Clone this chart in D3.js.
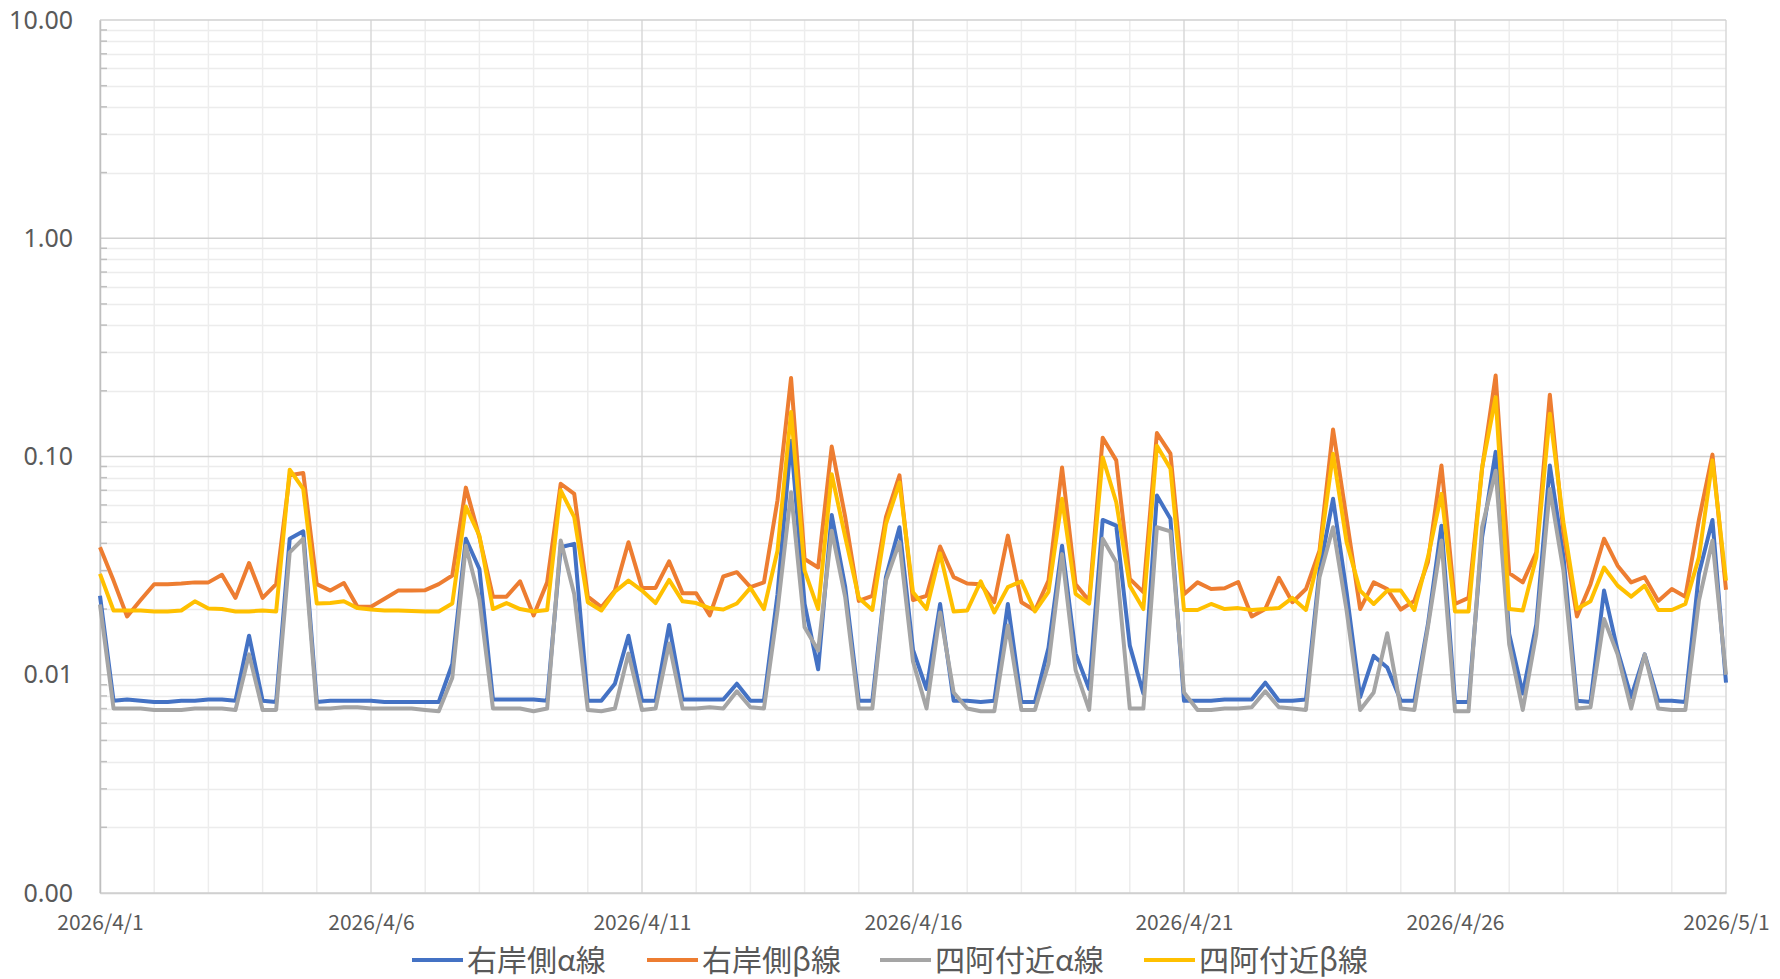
<!DOCTYPE html>
<html>
<head>
<meta charset="utf-8">
<title>chart</title>
<script src="https://cdn.jsdelivr.net/npm/d3@7"></script>
<style>
  html, body { margin: 0; padding: 0; background: #fff; }
  svg { display: block; }
</style>
</head>
<body>
<div id="chart"></div>
<script>
// series names (legend order = draw order)
const series_names = ["右岸側α線", "右岸側β線", "四阿付近α線", "四阿付近β線"];
const series_colors = ["#4472C4", "#ED7D31", "#A5A5A5", "#FFC000"];

// one reading every 6 hours, 2026/4/1 00:00 .. 2026/5/1 00:00
const start_date = new Date(2026, 3, 1);
const end_date = new Date(2026, 4, 1);

const right_alpha = [
  0.023, 0.0076, 0.0077, 0.0076, 0.0075, 0.0075, 0.0076, 0.0076, 0.0077, 0.0077, 0.0076, 0.0151, 0.0076,
  0.0075, 0.042, 0.0454, 0.0075, 0.0076, 0.0076, 0.0076, 0.0076, 0.0075, 0.0075, 0.0075, 0.0075,
  0.0075, 0.0112, 0.042, 0.0305, 0.0077, 0.0077, 0.0077, 0.0077, 0.0076, 0.0384, 0.0398, 0.0076,
  0.0076, 0.0091, 0.0151, 0.0076, 0.0076, 0.0169, 0.0077, 0.0077, 0.0077, 0.0077, 0.0091, 0.0076,
  0.0076, 0.0234, 0.118, 0.0211, 0.0106, 0.054, 0.0252, 0.0076, 0.0076, 0.028, 0.0474, 0.013,
  0.0086, 0.0211, 0.0076, 0.0076, 0.0075, 0.0076, 0.0211, 0.0075, 0.0075, 0.0133, 0.039, 0.0125,
  0.0086, 0.0512, 0.0482, 0.0136, 0.0082, 0.0662, 0.0518, 0.0076, 0.0076, 0.0076, 0.0077, 0.0077,
  0.0077, 0.0092, 0.0076, 0.0076, 0.0077, 0.030, 0.064, 0.0239, 0.0079, 0.0122, 0.0108, 0.0076,
  0.0076, 0.017, 0.0482, 0.0075, 0.0075, 0.0427, 0.105, 0.0154, 0.0082, 0.017, 0.091, 0.035,
  0.0076, 0.0075, 0.0243, 0.0129, 0.0079, 0.0124, 0.0076, 0.0076, 0.0075, 0.029, 0.0512, 0.0092
];

const right_beta = [
  0.0384, 0.027, 0.0185, 0.022, 0.026, 0.026, 0.0262, 0.0265, 0.0265, 0.0287, 0.0225, 0.0325, 0.0225,
  0.026, 0.082, 0.084, 0.026, 0.0243, 0.0263, 0.0205, 0.0205, 0.0223, 0.0243, 0.0243, 0.0244,
  0.026, 0.0285, 0.072, 0.0427, 0.0228, 0.0228, 0.0268, 0.0187, 0.0265, 0.075, 0.0674, 0.0228,
  0.0204, 0.0243, 0.0405, 0.025, 0.025, 0.0331, 0.0236, 0.0236, 0.0187, 0.0282, 0.0295, 0.0252,
  0.0265, 0.063, 0.229, 0.0339, 0.031, 0.111, 0.0527, 0.0218, 0.023, 0.0527, 0.082, 0.022,
  0.023, 0.0387, 0.028, 0.0262, 0.026, 0.0215, 0.0434, 0.0215, 0.0197, 0.027, 0.089, 0.026,
  0.0218, 0.122, 0.096, 0.0275, 0.0239, 0.128, 0.103, 0.0234, 0.0265, 0.0247, 0.0249, 0.0266,
  0.0185, 0.020, 0.0278, 0.0215, 0.0247, 0.037, 0.133, 0.0518, 0.020, 0.0265, 0.0247, 0.0199,
  0.0218, 0.0328, 0.091, 0.0211, 0.0225, 0.088, 0.235, 0.0292, 0.0265, 0.0364, 0.192, 0.045,
  0.0185, 0.026, 0.042, 0.0316, 0.0265, 0.028, 0.0218, 0.0247, 0.0228, 0.0512, 0.102, 0.0245
];

const azumaya_alpha = [
  0.021, 0.0070, 0.0070, 0.0070, 0.0069, 0.0069, 0.0069, 0.0070, 0.0070, 0.0070, 0.0069, 0.0124, 0.0069,
  0.0069, 0.0364, 0.042, 0.0070, 0.0070, 0.0071, 0.0071, 0.0070, 0.0070, 0.0070, 0.0070, 0.0069,
  0.0068, 0.0097, 0.039, 0.0222, 0.0070, 0.0070, 0.0070, 0.0068, 0.0070, 0.0412, 0.0234, 0.0069,
  0.0068, 0.0070, 0.0125, 0.0069, 0.0070, 0.0139, 0.0070, 0.0070, 0.0071, 0.0070, 0.0084, 0.0071,
  0.0070, 0.0197, 0.0686, 0.0165, 0.0129, 0.0457, 0.0226, 0.0070, 0.0070, 0.027, 0.0405, 0.0115,
  0.0070, 0.0193, 0.0083, 0.0070, 0.0068, 0.0068, 0.0168, 0.0069, 0.0069, 0.0112, 0.0357, 0.0105,
  0.0069, 0.042, 0.0328, 0.0070, 0.0070, 0.0474, 0.0454, 0.0083, 0.0069, 0.0069, 0.0070, 0.0070,
  0.0071, 0.0084, 0.0071, 0.0070, 0.0069, 0.028, 0.0474, 0.0197, 0.0069, 0.0083, 0.0155, 0.0070,
  0.0069, 0.0165, 0.0412, 0.0068, 0.0068, 0.0474, 0.086, 0.0138, 0.0069, 0.0154, 0.071, 0.030,
  0.0070, 0.0071, 0.018, 0.0124, 0.0070, 0.0124, 0.0070, 0.0069, 0.0069, 0.0218, 0.0412, 0.0100
];

const azumaya_beta = [
  0.029, 0.0197, 0.0197, 0.0197, 0.0195, 0.0195, 0.0197, 0.0217, 0.0201, 0.020, 0.0195, 0.0195, 0.0197,
  0.0195, 0.087, 0.071, 0.0212, 0.0213, 0.0217, 0.0202, 0.0199, 0.0197, 0.0197, 0.0196, 0.0195,
  0.0195, 0.0212, 0.059, 0.0434, 0.020, 0.0213, 0.020, 0.0195, 0.0198, 0.070, 0.0527, 0.0215,
  0.0197, 0.024, 0.027, 0.0243, 0.0213, 0.0272, 0.0217, 0.0213, 0.0202, 0.0199, 0.0212, 0.025,
  0.020, 0.037, 0.160, 0.030, 0.020, 0.083, 0.0427, 0.0225, 0.0198, 0.049, 0.076, 0.0239,
  0.020, 0.036, 0.0195, 0.0197, 0.0268, 0.0193, 0.0252, 0.0268, 0.0195, 0.024, 0.064, 0.0235,
  0.0212, 0.099, 0.0617, 0.0256, 0.020, 0.112, 0.088, 0.0198, 0.0198, 0.0211, 0.020, 0.0202,
  0.0198, 0.020, 0.0202, 0.0225, 0.0198, 0.0357, 0.103, 0.0405, 0.0243, 0.0211, 0.0243, 0.0243,
  0.0198, 0.0345, 0.0674, 0.0195, 0.0195, 0.089, 0.187, 0.020, 0.0197, 0.0345, 0.157, 0.05,
  0.020, 0.0217, 0.031, 0.0256, 0.0228, 0.0256, 0.0198, 0.0198, 0.0211, 0.0345, 0.096, 0.027
];

const y_ticks = [0.001, 0.01, 0.1, 1, 10];

const all_series = [right_alpha, right_beta, azumaya_alpha, azumaya_beta];

const width = 1780, height = 979;
const margin = {top: 20, right: 54, bottom: 86, left: 100};

const svg = d3.select("#chart").append("svg")
  .attr("width", width)
  .attr("height", height)
  .attr("viewBox", [0, 0, width, height]);

const times = d3.timeHour.every(6).range(start_date, d3.timeHour.offset(end_date, 1));

const x = d3.scaleTime()
  .domain([start_date, end_date])
  .range([margin.left, width - margin.right]);

const y = d3.scaleLog()
  .domain([0.001, 10])
  .range([height - margin.bottom, margin.top]);

// minor horizontal gridlines (2..9 of each decade)
const minor_y = [];
for (let d = 0.001; d < 10; d *= 10) {
  for (let k = 2; k <= 9; k++) minor_y.push(d * k);
}

const grid = svg.append("g");

grid.selectAll("line.minor-y")
  .data(minor_y)
  .join("line")
    .attr("x1", margin.left)
    .attr("x2", width - margin.right)
    .attr("y1", d => Math.round(y(d)) + 0.5)
    .attr("y2", d => Math.round(y(d)) + 0.5)
    .attr("stroke", "#ececec")
    .attr("stroke-width", 1.5);

// daily vertical gridlines
const days = d3.timeDay.range(start_date, d3.timeDay.offset(end_date, 1));
grid.selectAll("line.day")
  .data(days)
  .join("line")
    .attr("x1", d => x(d))
    .attr("x2", d => x(d))
    .attr("y1", margin.top)
    .attr("y2", height - margin.bottom)
    .attr("stroke", (d, i) => i % 5 === 0 ? "#d9d9d9" : "#ededed")
    .attr("stroke-width", 1.5);

// decade gridlines
grid.selectAll("line.major-y")
  .data(y_ticks)
  .join("line")
    .attr("x1", margin.left)
    .attr("x2", width - margin.right)
    .attr("y1", d => y(d))
    .attr("y2", d => y(d))
    .attr("stroke", "#d0d0d0")
    .attr("stroke-width", 1.5);

// y axis
const yAxis = d3.axisLeft(y)
  .tickValues(y_ticks)
  .tickFormat(d3.format(".2f"))
  .tickSize(0)
  .tickPadding(27);

svg.append("g")
  .attr("transform", `translate(${margin.left},0)`)
  .call(yAxis)
  .call(g => g.select(".domain").attr("stroke", "#bfbfbf").attr("stroke-width", 1.5))
  .call(g => g.selectAll("text")
    .attr("fill", "#595959")
    .style("font", "25px 'Noto Sans', sans-serif"));

// minor tick marks on the y axis
svg.append("g")
  .selectAll("line")
  .data(minor_y)
  .join("line")
    .attr("x1", margin.left)
    .attr("x2", margin.left + 7)
    .attr("y1", d => y(d))
    .attr("y2", d => y(d))
    .attr("stroke", "#bfbfbf")
    .attr("stroke-width", 1.5);

// x axis
const x_ticks = days.filter((d, i) => i % 5 === 0);
const xAxis = d3.axisBottom(x)
  .tickValues(x_ticks)
  .tickFormat(d => `${d.getFullYear()}/${d.getMonth() + 1}/${d.getDate()}`)
  .tickSize(0)
  .tickPadding(22);

svg.append("g")
  .attr("transform", `translate(0,${height - margin.bottom})`)
  .call(xAxis)
  .call(g => g.select(".domain").attr("stroke", "#d0d0d0").attr("stroke-width", 1.5))
  .call(g => g.selectAll("text")
    .attr("fill", "#595959")
    .style("font", "21px 'Noto Sans CJK JP', sans-serif"));

// series
const line = d3.line()
  .x((d, i) => x(times[i]))
  .y(d => y(d));

svg.append("g")
  .selectAll("path")
  .data(all_series)
  .join("path")
    .attr("fill", "none")
    .attr("stroke", (d, i) => series_colors[i])
    .attr("stroke-width", 4)
    .attr("stroke-linejoin", "round")
    .attr("d", line);

// legend
const legend_x = [412, 647, 880, 1144];
const legend = svg.append("g")
  .attr("transform", `translate(0,960)`);

const item = legend.selectAll("g")
  .data(series_names)
  .join("g")
    .attr("transform", (d, i) => `translate(${legend_x[i]},0)`);

item.append("line")
  .attr("x1", 0)
  .attr("x2", 51)
  .attr("stroke", (d, i) => series_colors[i])
  .attr("stroke-width", 4);

item.append("text")
  .attr("x", 55)
  .attr("dy", "0.35em")
  .attr("fill", "#595959")
  .style("font", "30px 'Noto Sans CJK JP', sans-serif")
  .text(d => d);
</script>
</body>
</html>
